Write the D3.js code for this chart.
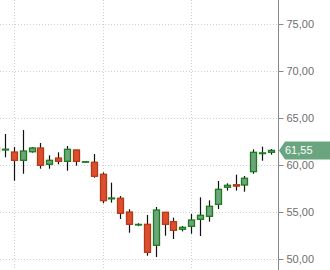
<!DOCTYPE html>
<html>
<head>
<meta charset="utf-8">
<script src="https://cdn.jsdelivr.net/npm/d3@7"></script>
<style>
  html, body { margin: 0; padding: 0; background: #fff; }
  svg { display: block; font-family: "Liberation Sans", Arial, sans-serif; }
</style>
</head>
<body>
<div id="vis"></div>
<script>
// velas diarias, la primera queda cortada por el borde izquierdo
const sessions = d3.range(-1, 31);
const opens  = [61.88, 61.60, 61.38, 60.50, 61.41, 61.81, 60.07, 60.74, 60.39, 61.60, 60.30, 60.29, 59.01, 56.40, 56.46, 55.00, 53.62, 53.69, 51.46, 54.97, 53.97, 53.16, 53.48, 54.22, 54.54, 55.82, 57.63, 57.90, 57.87, 59.29, 61.21, 61.35];
const highs  = [62.00, 63.30, 61.91, 63.72, 61.91, 62.34, 61.03, 61.35, 62.02, 61.62, 60.40, 61.17, 59.22, 58.12, 56.70, 55.29, 53.80, 54.68, 55.53, 55.00, 54.40, 53.51, 54.79, 56.56, 56.24, 58.30, 58.05, 58.97, 58.83, 61.67, 61.95, 61.70];
const lows   = [61.30, 60.82, 58.33, 59.07, 61.31, 59.61, 59.61, 60.07, 59.39, 59.93, 60.25, 58.65, 55.93, 56.00, 54.26, 52.80, 53.50, 50.35, 50.21, 52.48, 52.13, 52.94, 52.69, 52.45, 53.97, 55.32, 57.27, 57.27, 57.16, 59.07, 60.46, 61.10];
const closes = [61.41, 61.68, 60.50, 61.49, 61.81, 59.97, 60.50, 60.39, 61.67, 60.39, 60.35, 58.80, 56.20, 56.49, 54.86, 53.69, 53.68, 50.71, 55.21, 53.69, 53.05, 53.37, 54.15, 54.65, 55.61, 57.41, 57.84, 57.75, 58.59, 61.35, 61.29, 61.55];
const priceTicks = [50, 55, 60, 65, 70, 75];
const gridSessions = [1, 11, 21];
const lastPrice = 61.55;

const width = 330, height = 270;
const axisX = 278;

const data = sessions.map((s, i) => ({
  s: s, o: opens[i], h: highs[i], l: lows[i], c: closes[i]
}));

const x = d3.scaleLinear().domain([0, 30]).range([5, 271]);
const y = d3.scaleLinear().domain([50, 75]).range([259, 24]);

const fmt = d3.formatLocale({decimal: ",", thousands: ".", grouping: [3], currency: ["", ""]}).format(".2f");

const svg = d3.select("#vis").append("svg")
  .attr("width", width)
  .attr("height", height);

// rejilla punteada
svg.selectAll("line.hgrid")
  .data(priceTicks)
  .enter().append("line")
  .attr("class", "hgrid")
  .attr("x1", 0).attr("x2", axisX)
  .attr("y1", d => Math.round(y(d)) + 0.5)
  .attr("y2", d => Math.round(y(d)) + 0.5)
  .attr("stroke", "#cfcfcf")
  .attr("stroke-dasharray", "1,2");

svg.selectAll("line.vgrid")
  .data(gridSessions)
  .enter().append("line")
  .attr("class", "vgrid")
  .attr("x1", d => Math.round(x(d)) + 0.5)
  .attr("x2", d => Math.round(x(d)) + 0.5)
  .attr("y1", 0).attr("y2", height)
  .attr("stroke", "#cfcfcf")
  .attr("stroke-dasharray", "1,2");

const up = "#1e7b1e", upFill = "#6aa57b";
const down = "#b23a17", downFill = "#dc4e2e";

const plot = svg.append("g");

// mechas
plot.selectAll("line.wick")
  .data(data)
  .enter().append("line")
  .attr("class", "wick")
  .attr("x1", d => Math.round(x(d.s)) + 0.5)
  .attr("x2", d => Math.round(x(d.s)) + 0.5)
  .attr("y1", d => y(d.h))
  .attr("y2", d => y(d.l))
  .attr("stroke", "#111")
  .attr("stroke-width", 1.2);

// cuerpos
plot.selectAll("rect.body")
  .data(data)
  .enter().append("rect")
  .attr("class", "body")
  .attr("x", d => Math.round(x(d.s)) - 2.5)
  .attr("width", 6)
  .attr("y", d => y(Math.max(d.o, d.c)))
  .attr("height", d => Math.max(0.5, Math.abs(y(d.o) - y(d.c))))
  .attr("fill", d => d.c >= d.o ? upFill : downFill)
  .attr("stroke", d => d.c >= d.o ? up : down)
  .attr("stroke-width", 1.3);

// eje de precios a la derecha
svg.append("rect")
  .attr("x", axisX + 1).attr("y", 0)
  .attr("width", width - axisX).attr("height", height)
  .attr("fill", "#fff");

const axis = d3.axisRight(y)
  .tickValues(priceTicks)
  .tickSize(5)
  .tickPadding(3)
  .tickFormat(fmt);

const gAxis = svg.append("g")
  .attr("transform", `translate(${axisX + 0.5},0)`)
  .call(axis);
gAxis.select(".domain").remove();
gAxis.selectAll("line").attr("stroke", "#888");
gAxis.selectAll("text")
  .attr("fill", "#6e6e6e")
  .attr("font-size", 11)
  .attr("font-family", "Liberation Sans, Arial, sans-serif");

svg.append("line")
  .attr("x1", axisX + 0.5).attr("x2", axisX + 0.5)
  .attr("y1", 0).attr("y2", height)
  .attr("stroke", "#888");

// etiqueta del ultimo precio
const py = y(lastPrice);
svg.append("path")
  .attr("d", `M${axisX + 1},${py} L${axisX + 7},${py - 9} L${width},${py - 9} L${width},${py + 9} L${axisX + 7},${py + 9} Z`)
  .attr("fill", "#6aa57f");

svg.append("text")
  .attr("x", axisX + 7)
  .attr("y", py)
  .attr("dy", ".36em")
  .attr("fill", "#fff")
  .attr("font-size", 11)
  .text(fmt(lastPrice));
</script>
</body>
</html>
